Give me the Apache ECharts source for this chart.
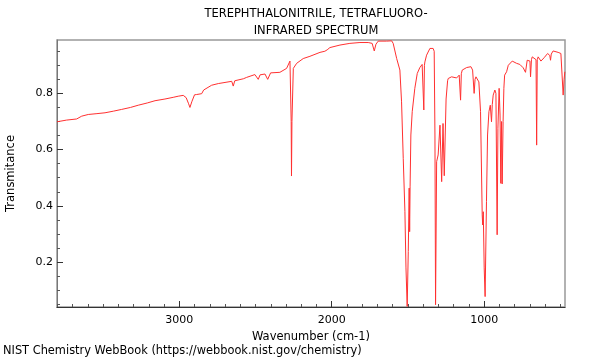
<!DOCTYPE html>
<html>
<head>
<meta charset="utf-8">
<script src="https://cdn.jsdelivr.net/npm/echarts@6/dist/echarts.min.js"></script>
<style>
html,body{margin:0;padding:0;background:#fff;}
#chart{width:600px;height:360px;}
</style>
</head>
<body>
<div id="chart"></div>
<script>
// Wavenumber (cm-1) and transmittance
const wavenumbers = [
3802,3740,3673,3640,3597,3540,3487,3430,3378,3320,3269,3210,3159,3094,3040,3007,2974,2955,2940,2930,2918,2900,2886,2853,2840,2831,2788,2744,2700,2656,2646,2636,2624,2580,2558,2504,2482,2470,2460,2438,2420,2401,2340,2296,2274,2266,2264,2261,2252,2230,2187,2143,2077,2045,2038,2030,2012,1946,1881,1815,1761,1735,1721,1710,1695,1640,1607,1597,1574,1553,1542,1531,1520,1513,1505,1498,1492,1489,1486,1481,1472,1455,1439,1422,1407,1400,1396,1392,1389,1378,1356,1345,1335,1328,1323,1319,1312,1302,1290,1279,1270,1262,1258,1250,1240,1236,1214,1181,1164,1158,1155,1150,1144,1115,1087,1076,1066,1060,1054,1046,1035,1024,1013,1010,1006,1000,994,985,978,969,960,952,947,941,930,923,915,910,902,896,891,886,882,876,871,866,853,842,831,816,788,766,744,729,718,707,700,696,690,685,672,660,656,652,646,628,607,584,570,565,560,548,515,497,489,482,476,471
];
const transmittance = [
0.699,0.705,0.709,0.719,0.725,0.728,0.731,0.737,0.743,0.750,0.758,0.766,0.774,0.780,0.786,0.790,0.793,0.785,0.765,0.750,0.770,0.795,0.796,0.799,0.812,0.818,0.829,0.835,0.839,0.843,0.826,0.845,0.847,0.852,0.857,0.867,0.850,0.866,0.867,0.869,0.850,0.873,0.875,0.889,0.915,0.700,0.506,0.700,0.889,0.907,0.924,0.932,0.946,0.950,0.944,0.955,0.963,0.972,0.978,0.981,0.981,0.978,0.951,0.975,0.986,0.986,0.987,0.978,0.924,0.883,0.770,0.569,0.379,0.179,0.042,0.237,0.463,0.308,0.470,0.652,0.735,0.818,0.871,0.892,0.903,0.905,0.741,0.900,0.912,0.936,0.960,0.966,0.960,0.950,0.652,0.048,0.557,0.581,0.687,0.486,0.693,0.507,0.510,0.780,0.845,0.853,0.859,0.855,0.865,0.860,0.776,0.870,0.883,0.892,0.895,0.883,0.800,0.850,0.859,0.865,0.841,0.735,0.368,0.332,0.379,0.179,0.077,0.415,0.652,0.735,0.758,0.699,0.760,0.794,0.812,0.800,0.297,0.676,0.818,0.723,0.480,0.700,0.478,0.700,0.818,0.865,0.877,0.900,0.907,0.915,0.907,0.903,0.891,0.875,0.918,0.924,0.915,0.859,0.920,0.930,0.936,0.920,0.616,0.920,0.930,0.915,0.927,0.942,0.935,0.918,0.940,0.951,0.946,0.942,0.936,0.794,0.850,0.877
];
const xMajorTicks = [1000, 2000, 3000];
const xMinorTicks = [500,600,700,800,900,1100,1200,1300,1400,1500,1600,1700,1800,1900,2100,2200,2300,2400,2500,2600,2700,2800,2900,3100,3200,3300,3400,3500,3600,3700,3800];
const yMajorTicks = [0.2, 0.4, 0.6, 0.8];
const yMinorTicks = [0.05,0.1,0.15,0.25,0.3,0.35,0.45,0.5,0.55,0.65,0.7,0.75,0.85,0.9,0.95];

const xMin = 470, xMax = 3802, yMin = 0.04, yMax = 0.99;
const FONT = 'DejaVu Sans';

const chart = echarts.init(document.getElementById('chart'), null, {renderer: 'canvas'});
const seriesData = wavenumbers.map((w, i) => [w, transmittance[i]]);

chart.setOption({
  animation: false,
  backgroundColor: '#fff',
  textStyle: {fontFamily: FONT},
  title: {
    text: 'TEREPHTHALONITRILE, TETRAFLUORO-\nINFRARED SPECTRUM',
    left: 311, top: 1, textAlign: 'center',
    textStyle: {fontFamily: FONT, fontSize: 11.5, fontWeight: 'normal', color: '#000', lineHeight: 17}
  },
  grid: {left: 57, right: 35, top: 40, bottom: 53, show: true, borderColor: '#999', borderWidth: 1.5,
         containLabel: false, outerBoundsMode: 'none'},
  xAxis: [
    {
      type: 'value', inverse: true, min: xMin, max: xMax, position: 'bottom',
      name: 'Wavenumber (cm-1)', nameLocation: 'middle', nameGap: 18,
      nameTextStyle: {fontFamily: FONT, fontSize: 11.5, color: '#000'},
      axisLine: {show: true, lineStyle: {color: '#333', width: 1}},
      axisTick: {show: true, inside: true, length: 6, customValues: xMajorTicks, lineStyle: {color: '#333'}},
      axisLabel: {show: true, customValues: xMajorTicks, margin: 8, fontFamily: FONT, fontSize: 11, color: '#000',
        formatter: v => String(v)},
      splitLine: {show: false}
    },
    {
      type: 'value', inverse: true, min: xMin, max: xMax, position: 'bottom', gridIndex: 0,
      axisLine: {show: false},
      axisTick: {show: true, inside: true, length: 3, customValues: xMinorTicks, lineStyle: {color: '#555'}},
      axisLabel: {show: false},
      splitLine: {show: false}
    }
  ],
  yAxis: [
    {
      type: 'value', min: yMin, max: yMax, position: 'left',
      name: 'Transmitance', nameLocation: 'middle', nameGap: 40,
      nameTextStyle: {fontFamily: FONT, fontSize: 11.5, color: '#000'},
      axisLine: {show: true, lineStyle: {color: '#777', width: 1}},
      axisTick: {show: true, inside: true, length: 6, customValues: yMajorTicks, lineStyle: {color: '#333'}},
      axisLabel: {show: true, customValues: yMajorTicks, margin: 4, fontFamily: FONT, fontSize: 11, color: '#000',
        formatter: v => v.toFixed(1)},
      splitLine: {show: false}
    },
    {
      type: 'value', min: yMin, max: yMax, position: 'left', gridIndex: 0,
      axisLine: {show: false},
      axisTick: {show: true, inside: true, length: 3, customValues: yMinorTicks, lineStyle: {color: '#555'}},
      axisLabel: {show: false},
      splitLine: {show: false}
    }
  ],
  graphic: [
    {type: 'text', left: 3, top: 346, style: {text: 'NIST Chemistry WebBook (https://webbook.nist.gov/chemistry)', fontFamily: FONT, fontSize: 11.4, fill: '#000'}}
  ],
  series: [{
    type: 'line', xAxisIndex: 0, yAxisIndex: 0,
    data: seriesData, showSymbol: false, symbol: 'none', clip: true,
    lineStyle: {color: '#ff3030', width: 1},
    emphasis: {disabled: true}
  }]
});
</script>
</body>
</html>
